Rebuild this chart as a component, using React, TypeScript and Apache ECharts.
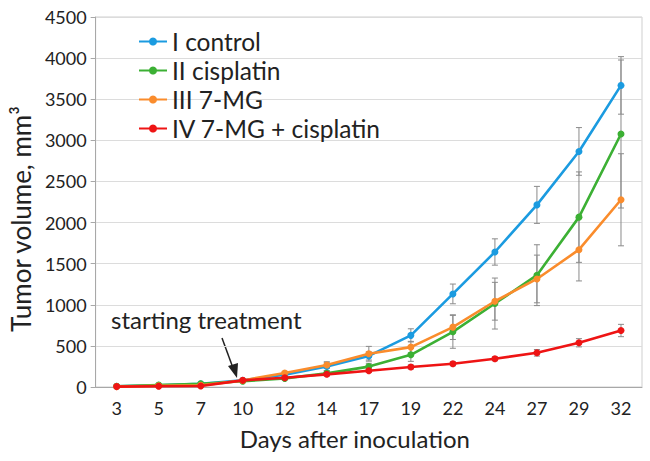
import React, { useEffect, useRef } from "react";
import * as echarts from "echarts";

const days = ["3", "5", "7", "10", "12", "14", "17", "19", "22", "24", "27", "29", "32"];
const yTicks = [0, 500, 1000, 1500, 2000, 2500, 3000, 3500, 4000, 4500];

const controlVals = [10, 20, 40, 82, 148, 250, 378, 628, 1132, 1642, 2215, 2865, 3668];
const cisplatinVals = [10, 25, 40, 70, 105, 166, 248, 392, 671, 1015, 1360, 2066, 3077];
const mgVals = [5, 15, 20, 80, 170, 267, 404, 485, 728, 1043, 1314, 1670, 2277];
const comboVals = [5, 10, 12, 81, 113, 154, 198, 243, 283, 344, 416, 538, 687];

const controlErr = [0, 0, 0, 10, 20, 50, 50, 80, 120, 160, 225, 290, 350];
const cisplatinErr = [0, 0, 0, 10, 20, 30, 40, 80, 200, 310, 370, 550, 900];
const mgErr = [0, 0, 0, 10, 20, 40, 90, 70, 150, 230, 290, 380, 560];
const comboErr = [0, 0, 0, 10, 15, 20, 20, 25, 25, 25, 40, 50, 75];

const names = ["I control", "II cisplatin", "III 7-MG", "IV 7-MG + cisplatin"];
const colors = ["#1b9be0", "#3cb034", "#fa8c2c", "#ee1414"];

export default function App() {
  const ref = useRef<HTMLDivElement>(null);
  useEffect(() => {
    if (!ref.current) return;
    const chart = echarts.init(ref.current, null, { renderer: "svg" });
    const font = "Lato";
    const vals = [controlVals, cisplatinVals, mgVals, comboVals];
    const errs = [controlErr, cisplatinErr, mgErr, comboErr];

    const lineSeries = vals.map((v, i) => ({
      name: names[i],
      type: "line",
      data: v,
      symbol: "circle",
      symbolSize: 7,
      lineStyle: { width: 2.6, color: colors[i] },
      itemStyle: { color: colors[i] },
      z: 3 + i,
    }));

    const errSeries = vals.map((v, i) => ({
      type: "custom",
      name: "err" + i,
      data: v
        .map((val, j) => [j, val - errs[i][j], val + errs[i][j], errs[i][j]])
        .filter((d) => d[3] > 0),
      encode: { x: 0, y: [1, 2] },
      z: 2,
      silent: true,
      renderItem: (params: any, api: any) => {
        const idx = api.value(0);
        const lo = api.coord([idx, api.value(1)]);
        const hi = api.coord([idx, api.value(2)]);
        const hw = 3;
        const style = { stroke: "#8a8a8a", lineWidth: 1 };
        return {
          type: "group",
          children: [
            { type: "line", shape: { x1: lo[0], y1: lo[1], x2: hi[0], y2: hi[1] }, style },
            { type: "line", shape: { x1: lo[0] - hw, y1: lo[1], x2: lo[0] + hw, y2: lo[1] }, style },
            { type: "line", shape: { x1: hi[0] - hw, y1: hi[1], x2: hi[0] + hw, y2: hi[1] }, style },
          ],
        };
      },
    }));

    chart.setOption({
      animation: false,
      backgroundColor: "#ffffff",
      textStyle: { fontFamily: font },
      grid: {
        left: 90,
        right: 8,
        top: 17,
        bottom: 74,
        show: true,
        borderColor: "#cfcfcf",
        borderWidth: 1,
      },
      legend: {
        data: names,
        orient: "vertical",
        left: 133,
        top: 24,
        itemWidth: 28,
        itemHeight: 10,
        itemGap: 4,
        textStyle: { fontSize: 24.5, color: "#222", fontFamily: font, lineHeight: 24.5 },
      },
      xAxis: {
        type: "category",
        data: days,
        boundaryGap: true,
        name: "Days after inoculation",
        nameLocation: "middle",
        nameGap: 39,
        nameTextStyle: { fontSize: 24, color: "#222", fontFamily: font, padding: [0, 28, 0, 0] },
        axisLine: { lineStyle: { color: "#a8a8a8" } },
        axisTick: { show: false },
        axisLabel: { fontSize: 18, color: "#222", margin: 12, fontFamily: font },
      },
      yAxis: {
        type: "value",
        min: yTicks[0],
        max: yTicks[yTicks.length - 1],
        interval: 500,
        name: "Tumor volume, mm³",
        nameLocation: "middle",
        nameGap: 56,
        nameTextStyle: { fontSize: 26, color: "#222", fontFamily: font, padding: [0, 34, 0, 0] },
        axisLine: { show: true, lineStyle: { color: "#a8a8a8" } },
        axisTick: { show: true, length: 5, lineStyle: { color: "#a8a8a8" } },
        splitLine: { lineStyle: { color: "#dcdcdc" } },
        axisLabel: {
          fontSize: 18,
          color: "#222",
          margin: 9,
          fontFamily: font,
          formatter: (v: number) => String(v),
        },
      },
      series: [...errSeries, ...lineSeries],
      graphic: [
        {
          type: "text",
          left: 111,
          top: 307,
          style: { text: "starting treatment", fontSize: 24, fill: "#222", fontFamily: font },
        },
        {
          type: "line",
          shape: { x1: 222, y1: 338, x2: 233, y2: 368 },
          style: { stroke: "#222", lineWidth: 1.5 },
        },
        {
          type: "polygon",
          shape: { points: [[237, 378], [228, 366], [238, 363]] },
          style: { fill: "#222" },
        },
      ],
    });
    return () => chart.dispose();
  }, []);
  return (
    <div
      ref={ref}
      style={{ position: "absolute", left: 0, top: 0, width: 650, height: 461 }}
    />
  );
}
